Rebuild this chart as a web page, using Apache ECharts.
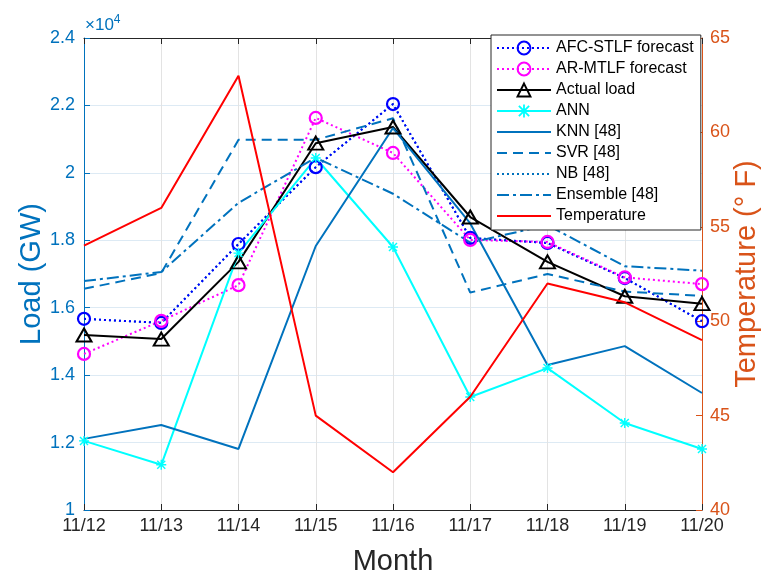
<!DOCTYPE html>
<html>
<head>
<meta charset="utf-8">
<script src="https://cdn.jsdelivr.net/npm/echarts@6/dist/echarts.min.js"></script>
<style>html,body{margin:0;padding:0;background:#fff;}#c{width:774px;height:576px;}</style>
</head>
<body>
<div id="c"></div>
<script>
var categories = ['11/12','11/13','11/14','11/15','11/16','11/17','11/18','11/19','11/20'];
var afcStlf   = [15670, 15550, 17890, 20170, 22040, 18070, 17920, 16880, 15600];
var arMtlf    = [14630, 15610, 16670, 21630, 20590, 18010, 17950, 16900, 16700];
var actual    = [15190, 15070, 17360, 20880, 21360, 18690, 17360, 16340, 16120];
var ann       = [12050, 11340, 17620, 20440, 17800, 13350, 14210, 12580, 11810];
var knn       = [12110, 12520, 11810, 17830, 21330, 18500, 14300, 14860, 13470];
var svr       = [16560, 17030, 20980, 20980, 21620, 16450, 17000, 16480, 16350];
var nb        = [15670, 15550, 17890, 20170, 22040, 18070, 17920, 16880, 15600];
var ensemble  = [16790, 17060, 19110, 20450, 19380, 17930, 18450, 17230, 17100];
var temperature = [54, 56, 63, 45, 42, 46, 52, 51, 49];
var leftTicks = {min: 10000, max: 24000, step: 2000};
var rightTicks = {min: 40, max: 65, step: 5};

var FONT = 'Liberation Sans, Arial, Helvetica, sans-serif';
var BLUE = '#0072BD', ORANGE = '#D95319', DARK = '#262626';
var asterisk = 'path://M4.3 0 H5.7 V10 H4.3 Z M0 4.3 H10 V5.7 H0 Z M0.5 1.5 L1.5 0.5 L9.5 8.5 L8.5 9.5 Z M8.5 0.5 L9.5 1.5 L1.5 9.5 L0.5 8.5 Z';
var CLEAR = 'rgba(0,0,0,0)';

var chart = echarts.init(document.getElementById('c'), null, {renderer: 'canvas'});
function lineSeries(name, data, color, type, width, extra) {
  var s = {
    name: name, type: 'line', data: data, xAxisIndex: 0, yAxisIndex: 0,
    symbol: 'circle', symbolSize: 1, showSymbol: true,
    lineStyle: {color: color, width: width, type: type},
    itemStyle: {color: CLEAR, borderColor: CLEAR, borderWidth: 0},
    emphasis: {disabled: true},
    z: 2
  };
  if (extra) for (var k in extra) s[k] = extra[k];
  return s;
}
var series = [
  lineSeries('NB [48]', nb, BLUE, [2, 3], 2, {z: 1}),
  lineSeries('AFC-STLF forecast', afcStlf, '#0000FF', [2, 3], 2, {
    symbol: 'circle', symbolSize: 12,
    itemStyle: {color: CLEAR, borderColor: '#0000FF', borderWidth: 2.2}}),
  lineSeries('AR-MTLF forecast', arMtlf, '#FF00FF', [2, 3], 2, {
    symbol: 'circle', symbolSize: 12,
    itemStyle: {color: CLEAR, borderColor: '#FF00FF', borderWidth: 2.2}}),
  lineSeries('Actual load', actual, '#000000', 'solid', 2, {
    symbol: 'triangle', symbolSize: [15, 13],
    itemStyle: {color: CLEAR, borderColor: '#000000', borderWidth: 2}}),
  lineSeries('ANN', ann, '#00FFFF', 'solid', 2, {
    symbol: asterisk, symbolSize: 10, itemStyle: {color: '#00FFFF'}}),
  lineSeries('KNN [48]', knn, BLUE, 'solid', 2),
  lineSeries('SVR [48]', svr, BLUE, [10, 6], 2),
  lineSeries('Ensemble [48]', ensemble, BLUE, [12, 4, 3, 4], 2),
  lineSeries('Temperature', temperature, '#FF0000', 'solid', 2, {yAxisIndex: 1, z: 3})
];

var option = {
  animation: false,
  backgroundColor: '#ffffff',
  textStyle: {fontFamily: FONT},
  grid: {left: 84, right: 72, top: 38, bottom: 66, containLabel: false, outerBoundsMode: 'none'},
  legend: {
    data: ['AFC-STLF forecast','AR-MTLF forecast','Actual load','ANN','KNN [48]','SVR [48]','NB [48]','Ensemble [48]','Temperature'],
    orient: 'vertical', left: 491, top: 35,
    padding: [5, 7, 6, 5],
    itemWidth: 54, itemHeight: 16, itemGap: 5,
    selectedMode: false,
    backgroundColor: '#ffffff', borderColor: DARK, borderWidth: 1, borderRadius: 0,
    textStyle: {fontFamily: FONT, fontSize: 16, color: '#000000', lineHeight: 16}
  },
  xAxis: [{
    type: 'category', data: categories, boundaryGap: false, position: 'bottom',
    axisLine: {lineStyle: {color: DARK, width: 1}},
    axisTick: {inside: true, length: 6, lineStyle: {color: DARK}},
    axisLabel: {color: DARK, fontSize: 18, margin: 7, fontFamily: FONT},
    splitLine: {show: true, lineStyle: {color: '#E3E3E3', width: 1}},
    name: 'Month', nameLocation: 'middle', nameGap: 37,
    nameTextStyle: {color: DARK, fontSize: 29, fontFamily: FONT}
  }, {
    type: 'category', data: categories, boundaryGap: false, position: 'top',
    axisLine: {lineStyle: {color: DARK, width: 1}},
    axisTick: {inside: true, length: 6, lineStyle: {color: DARK}},
    axisLabel: {show: false}, splitLine: {show: false}
  }],
  yAxis: [{
    type: 'value', position: 'left',
    min: leftTicks.min, max: leftTicks.max, interval: leftTicks.step,
    axisLine: {show: true, lineStyle: {color: BLUE, width: 1}},
    axisTick: {show: true, inside: true, length: 6, lineStyle: {color: BLUE}},
    axisLabel: {color: BLUE, fontSize: 18, margin: 9, fontFamily: FONT,
      formatter: function (v) { return String(Math.round(v / 1000) / 10); }},
    splitLine: {show: true, lineStyle: {color: '#DDEAF4', width: 1}},
    name: 'Load (GW)', nameLocation: 'middle', nameGap: 38, nameRotate: 90, nameMoveOverlap: false,
    nameTextStyle: {color: BLUE, fontSize: 29, fontFamily: FONT}
  }, {
    type: 'value', position: 'right',
    min: rightTicks.min, max: rightTicks.max, interval: rightTicks.step,
    axisLine: {show: true, lineStyle: {color: ORANGE, width: 1}},
    axisTick: {show: true, inside: true, length: 6, lineStyle: {color: ORANGE}},
    axisLabel: {color: ORANGE, fontSize: 18, margin: 8, fontFamily: FONT},
    splitLine: {show: false},
    name: 'Temperature (° F)', nameLocation: 'middle', nameGap: 30, nameRotate: 90, nameMoveOverlap: false,
    nameTextStyle: {color: ORANGE, fontSize: 29, fontFamily: FONT}
  }],
  graphic: [{
    type: 'text', left: 85, top: 14,
    style: {
      text: '{a|×10}{b|4}',
      rich: {
        a: {fontSize: 17, fill: BLUE, fontFamily: FONT, verticalAlign: 'bottom'},
        b: {fontSize: 12, fill: BLUE, fontFamily: FONT, verticalAlign: 'top', padding: [0, 0, 8, 0]}
      }
    }
  }],
  series: series
};
chart.setOption(option);
</script>
</body>
</html>
